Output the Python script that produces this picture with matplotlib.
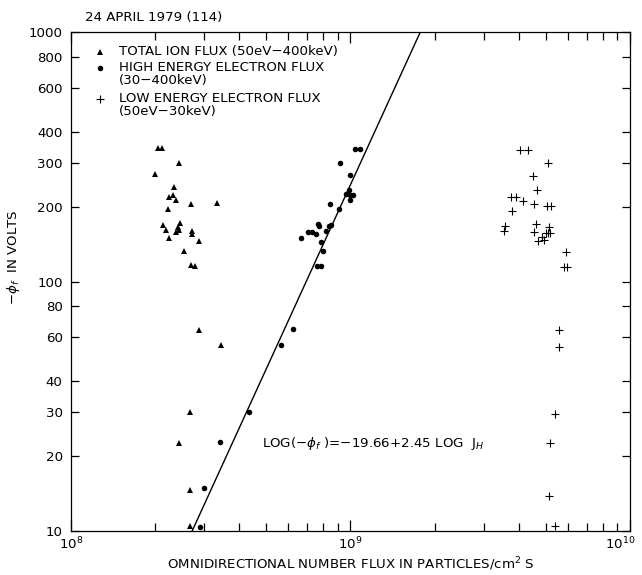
# Floating potential vs omnidirectional number flux, 24 April 1979 (day 114)

import matplotlib
matplotlib.use("Agg")
import matplotlib.pyplot as plt
import matplotlib.transforms as mtransforms
from matplotlib.ticker import FixedLocator, NullFormatter, NullLocator
import numpy as np

# total ion flux (50eV-400keV), flux in units of 1e8
ion_flux = [2.05, 2.11, 2.43, 1.99, 2.33, 2.25, 2.31, 2.38, 2.69, 3.33,
            2.23, 2.13, 2.18, 2.45, 2.42, 2.38, 2.44, 2.25, 2.70, 2.70,
            2.86, 2.54, 2.69, 2.78, 2.87, 3.43, 2.66, 2.43, 2.67, 2.67]
ion_phi = [344, 344, 299, 272, 240, 220, 223, 213, 205, 208,
           196, 169, 162, 172, 166, 159, 162, 150, 160, 156,
           146, 133, 117, 116, 64, 56, 30, 22.6, 14.7, 10.5]

# high energy electron flux (30-400keV), flux in units of 1e8
hi_flux = [10.4, 10.8, 9.2, 10.0, 9.85, 9.63, 9.96, 10.2, 9.96, 8.43,
           9.1, 7.63, 7.71, 8.4, 8.52, 8.17, 7.03, 7.26, 7.51, 6.63,
           7.82, 7.97, 7.57, 7.84, 6.21, 5.64, 4.35, 3.40, 3.0, 2.89]
hi_phi = [340, 340, 300, 269, 234, 225, 224, 224, 213, 206,
          196, 170, 167, 168, 168.5, 160, 158, 158, 155, 150,
          145, 133, 116, 116, 65, 56, 30, 22.8, 14.9, 10.45]

# low energy electron flux (50eV-30keV), flux in units of 1e9
lo_flux = [4.05, 4.31, 5.1, 4.51, 4.64, 3.75, 3.92, 4.14, 4.55, 5.03,
           5.23, 3.79, 3.57, 3.55, 4.61, 5.14, 4.55, 4.99, 5.08, 5.16,
           4.83, 4.92, 4.70, 5.90, 5.79, 5.97, 5.57, 5.57, 5.38, 5.19,
           5.12, 5.38]
lo_phi = [337, 337, 299, 265, 233, 220, 220, 212, 205, 202,
          202, 193, 168, 160, 171, 166, 159, 157, 157, 157,
          152, 148, 146, 132, 114.5, 114.5, 64, 55, 29.5, 22.6,
          13.9, 10.5]

# fit: LOG(-phi) = -19.66 + 2.45 LOG J
fit_a = -19.66
fit_b = 2.45
fit_phi = [10, 1000]

yticks = [10, 20, 30, 40, 60, 80, 100, 200, 300, 400, 600, 800, 1000]

plt.rcParams["font.family"] = "DejaVu Sans"
fs = 9.6

fig = plt.figure(figsize=(6.42, 5.75), dpi=100)
ax = fig.add_axes([0.1106, 0.0757, 0.8707, 0.8678])

ax.plot(np.array(ion_flux) * 1e8, ion_phi, "^", color="black", ms=4.4, mew=0)
ax.plot(np.array(hi_flux) * 1e8, hi_phi, "o", color="black", ms=4.0, mew=0)
ax.plot(np.array(lo_flux) * 1e9, lo_phi, "+", color="black", ms=5.2, mew=0.8)

fit_J = 10 ** ((np.log10(fit_phi) - fit_a) / fit_b)
ax.plot(fit_J, fit_phi, "-", color="black", lw=1.0)

ax.set_xscale("log")
ax.set_yscale("log")
ax.set_xlim(1e8, 1e10)
ax.set_ylim(10, 1000)

ax.xaxis.set_major_locator(FixedLocator([1e8, 1e9, 1e10]))
ax.set_xticklabels([r"$10^8$", r"$10^9$", r"$10^{10}$"])
ax.xaxis.set_minor_locator(FixedLocator([k * 1e8 for k in range(2, 10)] +
                                        [k * 1e9 for k in range(2, 10)]))
ax.xaxis.set_minor_formatter(NullFormatter())

ax.yaxis.set_major_locator(FixedLocator(yticks))
ax.set_yticklabels([str(v) for v in yticks])
ax.yaxis.set_minor_locator(NullLocator())

ax.tick_params(which="both", direction="in", top=True, right=True,
               width=0.9, labelsize=fs)
ax.tick_params(axis="x", which="major", length=8, pad=3)
ax.tick_params(axis="x", which="minor", length=6)
ax.tick_params(axis="y", which="major", length=6, pad=6)
for s in ax.spines.values():
    s.set_linewidth(0.9)

# keep the 10^10 label inside the figure edge
last = ax.get_xticklabels()[-1]
last.set_transform(last.get_transform() +
                   mtransforms.ScaledTranslation(-7 / 72, 0, fig.dpi_scale_trans))

ax.set_xlabel("OMNIDIRECTIONAL NUMBER FLUX IN PARTICLES/cm$^2$ S", fontsize=fs)
ax.xaxis.set_label_coords(0.5, -0.048)
ax.set_ylabel(r"$-\phi_f$  IN VOLTS", fontsize=fs)
ax.yaxis.set_label_coords(-0.088, 0.55)

# legend drawn by hand
mx, tx = 0.052, 0.086
ax.plot([mx], [0.961], "^", color="black", ms=4.4, mew=0, transform=ax.transAxes, clip_on=False)
ax.plot([mx], [0.929], "o", color="black", ms=4.0, mew=0, transform=ax.transAxes, clip_on=False)
ax.plot([mx], [0.867], "+", color="black", ms=5.2, mew=0.8, transform=ax.transAxes, clip_on=False)
leg_lines = [(0.961, "TOTAL ION FLUX (50eV\u2212400keV)"),
             (0.929, "HIGH ENERGY ELECTRON FLUX"),
             (0.903, "(30\u2212400keV)"),
             (0.867, "LOW ENERGY ELECTRON FLUX"),
             (0.841, "(50eV\u221230keV)")]
for yy, txt in leg_lines:
    ax.text(tx, yy, txt, transform=ax.transAxes, fontsize=fs, va="center", ha="left")

ax.text(0.341, 0.177, r"LOG($-\phi_f$ )=$-$19.66+2.45 LOG  J$_H$",
        transform=ax.transAxes, fontsize=fs, va="center", ha="left")

fig.text(0.132, 0.969, "24 APRIL 1979 (114)", fontsize=fs, va="center", ha="left")

fig.savefig("out.png", dpi=100)
